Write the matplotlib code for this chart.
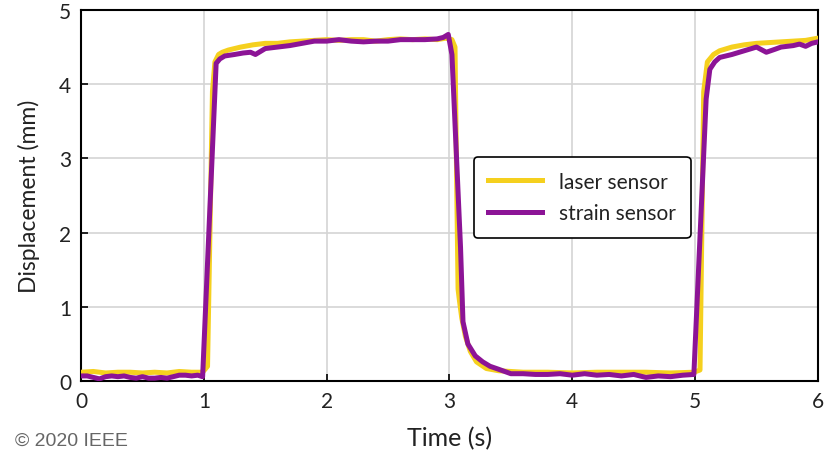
import matplotlib
matplotlib.use("Agg")
import matplotlib.pyplot as plt

plt.rcParams['font.family'] = ['Lato', 'DejaVu Sans']

# laser reference measurement
laser_t = [0.0, 0.1, 0.2, 0.3, 0.4, 0.5, 0.6, 0.7, 0.8, 0.9, 0.99, 1.03, 1.07, 1.09,
           1.12, 1.15, 1.2, 1.3, 1.4, 1.5, 1.6, 1.7, 1.8, 1.9, 2.0, 2.1, 2.2, 2.3,
           2.4, 2.5, 2.6, 2.7, 2.8, 2.9, 2.97, 3.02, 3.045, 3.06, 3.07, 3.08, 3.1,
           3.13, 3.17, 3.22, 3.3, 3.4, 3.5, 3.6, 3.8, 4.0, 4.2, 4.4, 4.6, 4.8, 4.99,
           5.04, 5.07, 5.1, 5.15, 5.2, 5.3, 5.4, 5.5, 5.6, 5.7, 5.8, 5.9, 6.0]
laser_v = [0.12, 0.13, 0.11, 0.12, 0.12, 0.11, 0.12, 0.11, 0.13, 0.12, 0.12, 0.2, 3.9, 4.3,
           4.4, 4.43, 4.46, 4.5, 4.53, 4.55, 4.55, 4.57, 4.58, 4.59, 4.6, 4.59, 4.6, 4.6,
           4.58, 4.6, 4.61, 4.6, 4.61, 4.6, 4.62, 4.6, 4.5, 2.5, 1.24, 1.1, 0.85,
           0.6, 0.4, 0.26, 0.17, 0.14, 0.13, 0.12, 0.12, 0.11, 0.12, 0.12, 0.12, 0.11, 0.12,
           0.15, 3.9, 4.3, 4.4, 4.45, 4.5, 4.53, 4.55, 4.56, 4.57, 4.58, 4.59, 4.62]

# strain sensor output
strain_t = [0.0, 0.05, 0.1, 0.15, 0.2, 0.25, 0.3, 0.35, 0.4, 0.45, 0.5, 0.55, 0.6, 0.65,
            0.7, 0.75, 0.8, 0.85, 0.9, 0.95, 0.99, 1.1, 1.13, 1.17, 1.25, 1.32, 1.38,
            1.42, 1.5, 1.6, 1.7, 1.8, 1.9, 2.0, 2.1, 2.2, 2.3, 2.4, 2.5, 2.6, 2.7, 2.8,
            2.9, 2.95, 2.99, 3.02, 3.09, 3.11, 3.15, 3.21, 3.27, 3.33, 3.4, 3.45, 3.5,
            3.6, 3.7, 3.8, 3.9, 4.0, 4.1, 4.2, 4.3, 4.4, 4.5, 4.6, 4.7, 4.8, 4.9, 4.99,
            5.09, 5.12, 5.16, 5.2, 5.3, 5.4, 5.5, 5.58, 5.65, 5.7, 5.8, 5.85, 5.9, 5.95, 6.0]
strain_v = [0.07, 0.07, 0.05, 0.03, 0.06, 0.07, 0.06, 0.07, 0.05, 0.04, 0.06, 0.04, 0.04, 0.05,
            0.04, 0.06, 0.08, 0.08, 0.07, 0.08, 0.06, 4.28, 4.34, 4.38, 4.4, 4.42, 4.43,
            4.4, 4.48, 4.5, 4.52, 4.55, 4.58, 4.58, 4.6, 4.58, 4.57, 4.58, 4.58, 4.6, 4.6, 4.6,
            4.61, 4.63, 4.67, 4.4, 1.8, 0.8, 0.5, 0.34, 0.26, 0.2, 0.16, 0.13, 0.1,
            0.1, 0.09, 0.09, 0.1, 0.08, 0.1, 0.08, 0.09, 0.07, 0.09, 0.05, 0.07, 0.06, 0.08, 0.09,
            3.8, 4.2, 4.3, 4.36, 4.4, 4.45, 4.5, 4.43, 4.47, 4.5, 4.52, 4.54, 4.51, 4.55, 4.57]

x_ticks = [0, 1, 2, 3, 4, 5, 6]
y_ticks = [0, 1, 2, 3, 4, 5]

fig = plt.figure(figsize=(8.27, 4.56), dpi=100)
ax = fig.add_axes([0.098, 0.162, 0.891, 0.814])

ax.plot(laser_t, laser_v, color='#F5D01E', lw=3.6, label='laser sensor', zorder=3)
ax.plot(strain_t, strain_v, color='#8C1496', lw=3.6, label='strain sensor', zorder=4)

ax.set_xlim(0, 6)
ax.set_ylim(0, 5)
ax.set_xticks(x_ticks)
ax.set_yticks(y_ticks)
ax.grid(True, color='#d4d4d4', lw=1.2)
ax.set_axisbelow(True)
ax.tick_params(direction='in', length=5, width=1.2, labelsize=15, pad=7,
               color='black', labelcolor='#222222')
for s in ax.spines.values():
    s.set_linewidth(1.5)

ax.set_xlabel('Time (s)', fontsize=18, labelpad=11, color='#222222')
ax.set_ylabel('Displacement (mm)', fontsize=16.5, labelpad=14, color='#222222')

leg = ax.legend(loc='center', bbox_to_anchor=(0.68, 0.495), fontsize=15,
                frameon=True, fancybox=True, edgecolor='black', framealpha=1,
                handlelength=2.6, borderpad=0.7, labelspacing=0.55)
leg.get_frame().set_linewidth(1.2)
for txt in leg.get_texts():
    txt.set_color('#222222')

fig.text(0.018, 0.022, '\u00a9 2020 IEEE', fontsize=14, color='#666666',
         family=['Liberation Sans', 'DejaVu Sans'])

fig.savefig('out.png', dpi=100)
